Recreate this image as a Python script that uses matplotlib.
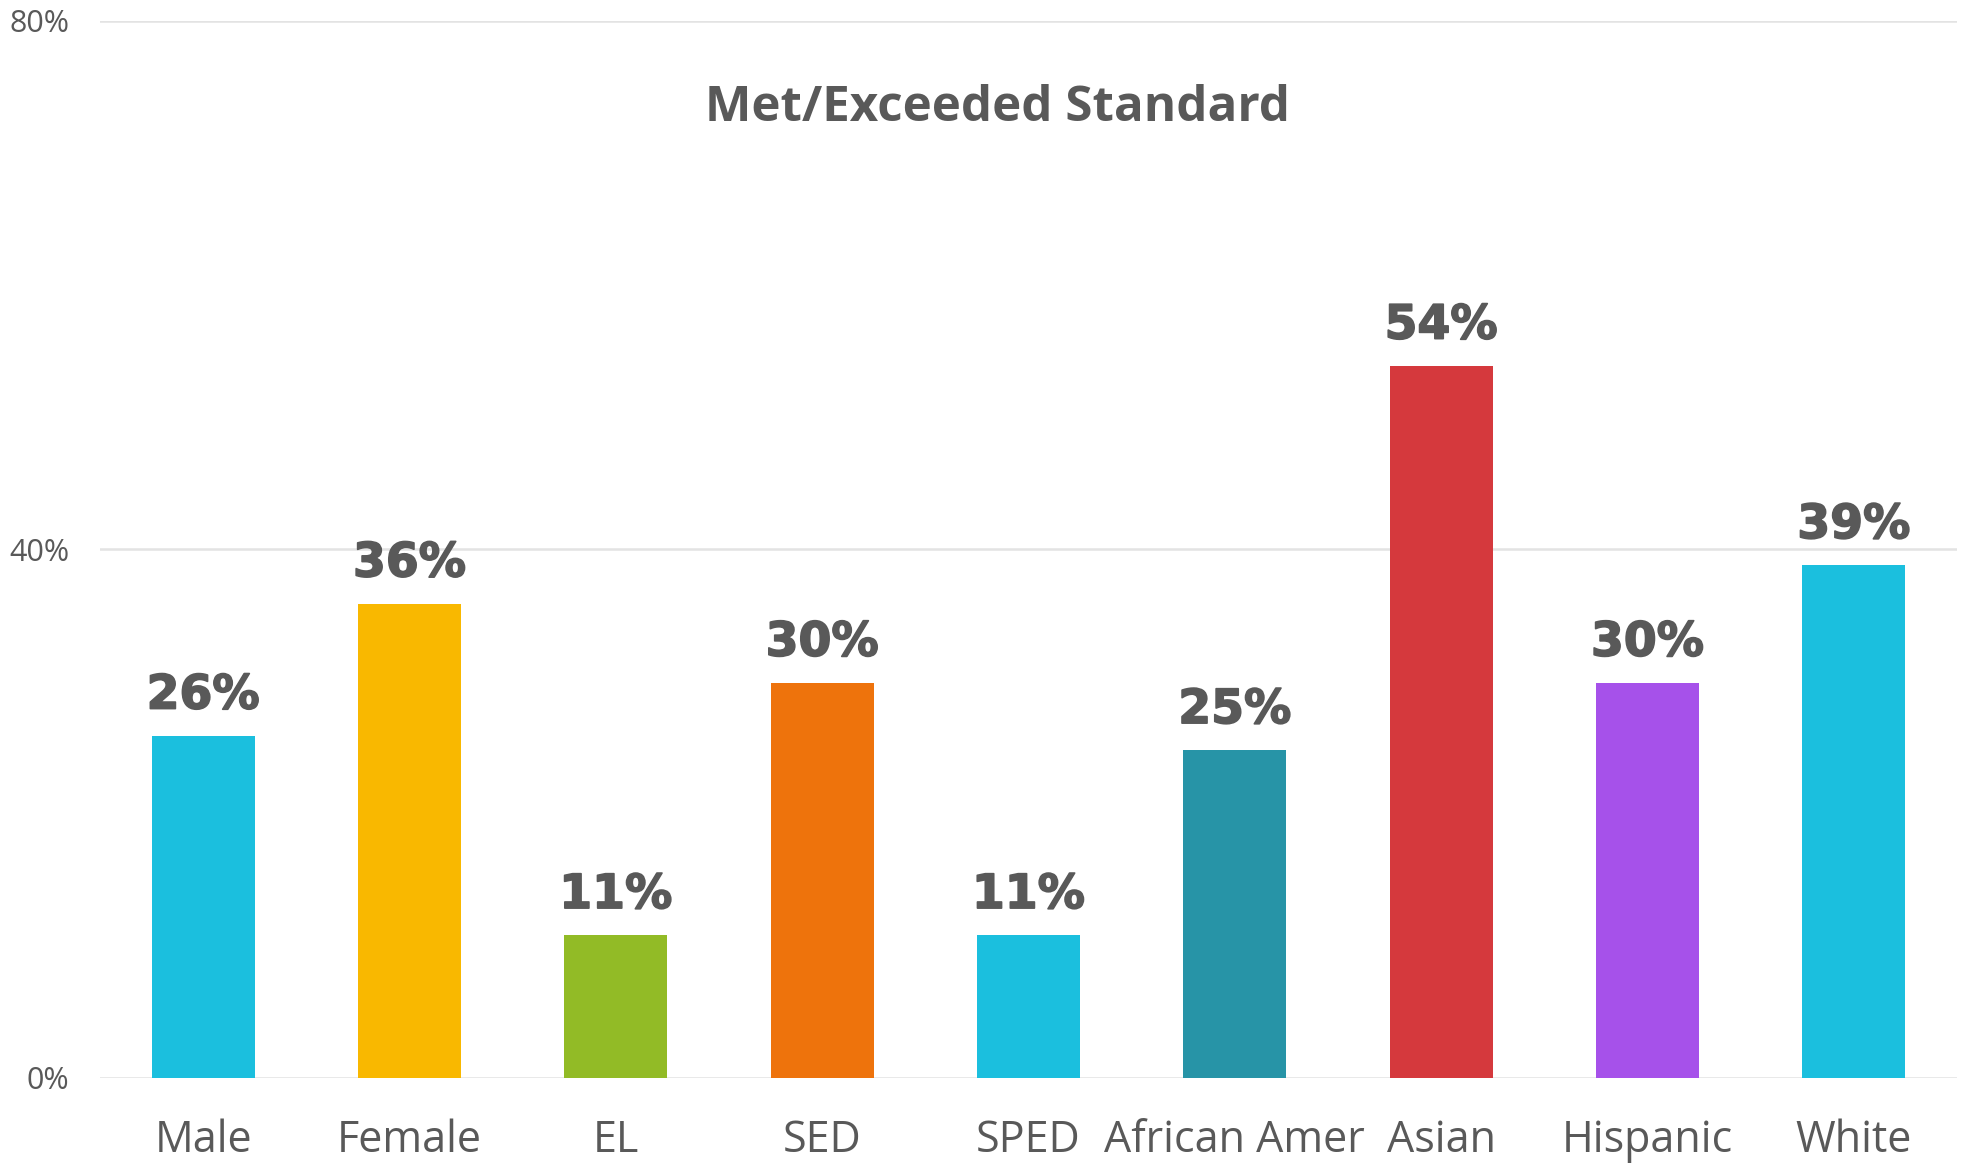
import matplotlib
matplotlib.use("Agg")
import matplotlib.pyplot as plt
import matplotlib.patheffects as pe
from matplotlib.ticker import FuncFormatter

# values (share met/exceeded standard, %)
categories = ["Male", "Female", "EL", "SED", "SPED", "African Amer", "Asian", "Hispanic", "White"]
values = [25.9, 35.9, 10.8, 29.9, 10.8, 24.8, 53.9, 29.9, 38.8]
labels = ["26%", "36%", "11%", "30%", "11%", "25%", "54%", "30%", "39%"]
colors = ["#1BBFDE", "#F9B800", "#92BB26", "#EE730C", "#1BBFDE",
          "#2794A7", "#D5393D", "#A651EA", "#1BBFDE"]
y_ticks = [0, 40, 80]

text_col = "#595959"

fig = plt.figure(figsize=(19.69, 11.64), dpi=100)
ax = fig.add_axes([0.0508, 0.0739, 0.9431, 0.9081])

x = range(len(categories))
bars = ax.bar(x, values, width=0.5, color=colors, zorder=3)

for b, lab in zip(bars, labels):
    ax.text(b.get_x() + b.get_width() / 2, b.get_height() + 1.3, lab,
            ha="center", va="bottom", fontsize=34, fontweight="bold",
            color=text_col, family="DejaVu Sans",
            path_effects=[pe.withStroke(linewidth=1.2, foreground=text_col)])

ax.set_xlim(-0.5, len(categories) - 0.5)
ax.set_ylim(0, 80)
ax.set_yticks(y_ticks)
ax.yaxis.set_major_formatter(FuncFormatter(lambda v, p: f"{v:.0f}%"))
ax.set_xticks(list(x))
ax.set_xticklabels(categories, fontsize=31, color=text_col, family="Open Sans")
ax.tick_params(axis="x", length=0, pad=29)
ax.tick_params(axis="y", length=0, pad=22, labelsize=22, labelcolor=text_col)
for t in ax.get_yticklabels():
    t.set_family("Open Sans")

ax.grid(axis="y", color="#E3E3E3", linewidth=1.8, zorder=0)
for s in ax.spines.values():
    s.set_visible(False)

fig.text(0.5064, 0.907, "Met/Exceeded Standard",
         ha="center", va="center", fontsize=35.5, fontweight="bold",
         color=text_col, family="Open Sans")

fig.savefig("out.png", dpi=100)
